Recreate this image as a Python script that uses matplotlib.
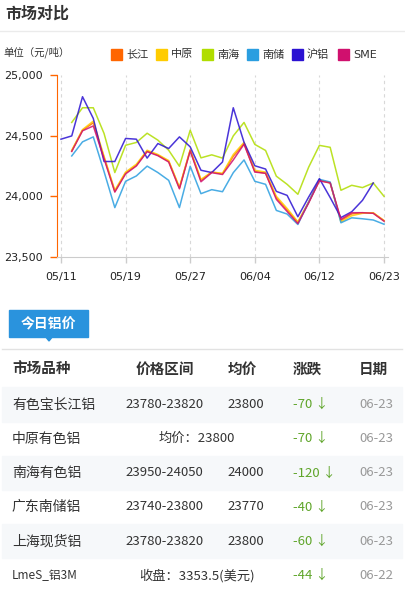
import numpy as np
import matplotlib
matplotlib.use("Agg")
import matplotlib.pyplot as plt
from matplotlib.patches import Rectangle, Polygon

plt.rcParams['font.family'] = ['Noto Sans CJK SC', 'DejaVu Sans']

nan = np.nan
# chart data (trading days 05/11 .. 06/23)
tick_labels = ['05/11', '05/19', '05/27', '06/04', '06/12', '06/23']
tick_pos = [0, 6, 12, 18, 24, 30]
y_ticks = [23500, 24000, 24500, 25000]

changjiang = [nan, 24374, 24545, 24606, 24320, 24041, 24193, 24256, 24374, 24339, 24289, 24069, 24380, 24132, 24200, 24185,
              24330, 24435, 24205, 24190, 23988, 23888, 23785, 23950, 24130, 24113, 23800, 23855, 23865, 23862, 23800]
zhongyuan = [nan, 24380, 24550, 24620, 24330, 24050, 24200, 24265, 24380, 24345, 24295, 24075, 24385, 24140, 24200, 24190,
             24345, 24445, 24215, 24200, 24000, 23900, 23790, 23955, 24135, 24110, 23790, 23840, 23860, 23865, 23800]
nanhai = [nan, 24609, 24730, 24730, 24518, 24196, 24421, 24444, 24520, 24463, 24380, 24248, 24545, 24317, 24342, 24315,
          24498, 24609, 24428, 24378, 24166, 24099, 24017, 24240, 24420, 24404, 24050, 24091, 24072, 24110, 24000]
nanchu = [nan, 24333, 24449, 24490, 24204, 23907, 24124, 24168, 24249, 24196, 24132, 23907, 24248, 24022, 24055, 24038,
          24195, 24300, 24124, 24099, 23884, 23854, 23768, 23953, 24140, 24118, 23782, 23823, 23815, 23805, 23770]
hulv = [24471, 24498, 24821, 24642, 24287, 24287, 24477, 24471, 24315, 24435, 24394, 24490, 24408, 24215, 24196, 24283,
        24730, 24445, 24252, 24225, 24041, 24008, 23832, 23994, 24146, 23990, 23825, 23873, 23967, 24110, nan]
sme = [nan, 24370, 24540, 24580, 24310, 24035, 24185, 24250, 24368, 24335, 24283, 24062, 24375, 24120, 24195, 24180,
       24300, 24430, 24200, 24190, 23975, 23875, 23775, 23945, 24128, 24110, 23810, 23865, 23865, 23860, 23795]

series_names = ['长江', '中原', '南海', '南储', '沪铝', 'SME']
series_vals = [changjiang, zhongyuan, nanhai, nanchu, hulv, sme]
series_colors = ['#ff6600', '#ffcc00', '#b0dd00', '#2a9ee0', '#2b12d2', '#d0106e']

# table data
markets = ['有色宝长江铝', '中原有色铝', '南海有色铝', '广东南储铝', '上海现货铝', 'LmeS_铝3M']
ranges = ['23780-23820', '', '23950-24050', '23740-23800', '23780-23820', '']
avgs = ['23800', '', '24000', '23770', '23800', '']
merged = ['', '均价：23800', '', '', '', '收盘：3353.5(美元)']
changes = ['-70', '-70', '-120', '-40', '-60', '-44']
dates = ['06-23', '06-23', '06-23', '06-23', '06-23', '06-22']
headers = ['市场品种', '价格区间', '均价', '涨跌', '日期']

W, H = 405, 595
fig = plt.figure(figsize=(W / 100, H / 100), dpi=100)


def fx(px):
    return px / W


def fy(py):
    return 1 - py / H


# header
fig.text(fx(5), fy(14), '市场对比', fontsize=11.5, fontweight='bold', color='#333333', va='center', ha='left')
fig.add_artist(plt.Line2D([0, 1], [fy(31), fy(31)], color='#ebebeb', lw=1))
fig.text(fx(3), fy(52), '单位（元/吨）', fontsize=7.5, color='#333333', va='center', ha='left')

# legend
leg_x = [111, 156, 202, 247, 292, 338]
for lx, name, col in zip(leg_x, series_names, series_colors):
    fig.add_artist(Rectangle((fx(lx), fy(60)), 11 / W, 11 / H, transform=fig.transFigure, color=col))
    fig.text(fx(lx + 15), fy(54.5), name, fontsize=8, color='#333333', va='center', ha='left',
             family=['DejaVu Sans', 'Noto Sans CJK SC'] if name == 'SME' else None)

# chart
ax = fig.add_axes([fx(57), fy(257), (388 - 57) / W, (257 - 75) / H])
x = np.arange(len(hulv))
for vals, col in zip(series_vals, series_colors):
    ax.plot(x, vals, color=col, lw=1.1, alpha=0.85)
ax.set_xlim(-0.37, 30.37)
ax.set_ylim(23500, 25000)
ax.set_yticks(y_ticks)
ax.set_yticklabels([f'{v:,}' for v in y_ticks], family='DejaVu Sans', fontsize=8, color='#222222')
ax.set_xticks(tick_pos)
ax.set_xticklabels(tick_labels, family='DejaVu Sans', fontsize=8, color='#222222')
ax.tick_params(axis='y', length=5, width=1, color='#ff6600', pad=5)
ax.tick_params(axis='x', length=4, width=1, color='#cccccc', pad=7)
for s in ['top', 'right']:
    ax.spines[s].set_visible(False)
ax.spines['left'].set_color('#ff6600')
ax.spines['bottom'].set_color('#cccccc')
ax.grid(axis='x', color='#d8d8d8', linestyle=(0, (3, 3)), lw=0.8)

# today's price box
fig.add_artist(Rectangle((fx(9), fy(337)), 79 / W, 27 / H, transform=fig.transFigure, color='#2a93dd'))
fig.add_artist(Polygon([(fx(45), fy(336)), (fx(53), fy(336)), (fx(49), fy(341))], closed=True,
                       transform=fig.transFigure, color='#2a93dd'))
fig.text(fx(48.5), fy(323.5), '今日铝价', fontsize=10, fontweight='bold', color='white', va='center', ha='center')
fig.add_artist(plt.Line2D([fx(2), fx(402)], [fy(349), fy(349)], color='#e2e2e2', lw=1))

# table header
head_x = [12, 165, 242.5, 307.5, 373]
for i, (hx, hd) in enumerate(zip(head_x, headers)):
    fig.text(fx(hx), fy(369), hd, fontsize=10.5, fontweight='bold', color='#333333', va='center',
             ha='left' if i == 0 else 'center')

# table rows
row_top = 387.3
row_h = 34.2
for i in range(len(markets)):
    yc = row_top + row_h * (i + 0.5)
    if i % 2 == 0:
        fig.add_artist(Rectangle((fx(2), fy(row_top + row_h * (i + 1))), 400 / W, row_h / H,
                                 transform=fig.transFigure, color='#f6f8fa', zorder=0))
    name_size = 8.5 if markets[i].startswith('Lme') else 10
    fig.text(fx(12), fy(yc), markets[i], fontsize=name_size, color='#333333', va='center', ha='left')
    if merged[i]:
        fig.text(fx(197), fy(yc), merged[i], fontsize=9.5, color='#333333', va='center', ha='center')
    else:
        fig.text(fx(164.3), fy(yc), ranges[i], fontsize=9.5, color='#333333', va='center', ha='center')
        fig.text(fx(245.5), fy(yc), avgs[i], fontsize=9.5, color='#333333', va='center', ha='center')
    fig.text(fx(293), fy(yc), changes[i] + ' ↓', fontsize=9.5, color='#5fa52a', va='center', ha='left')
    fig.text(fx(376), fy(yc), dates[i], fontsize=9.5, color='#999999', va='center', ha='center')

fig.savefig('out.png', dpi=100)
